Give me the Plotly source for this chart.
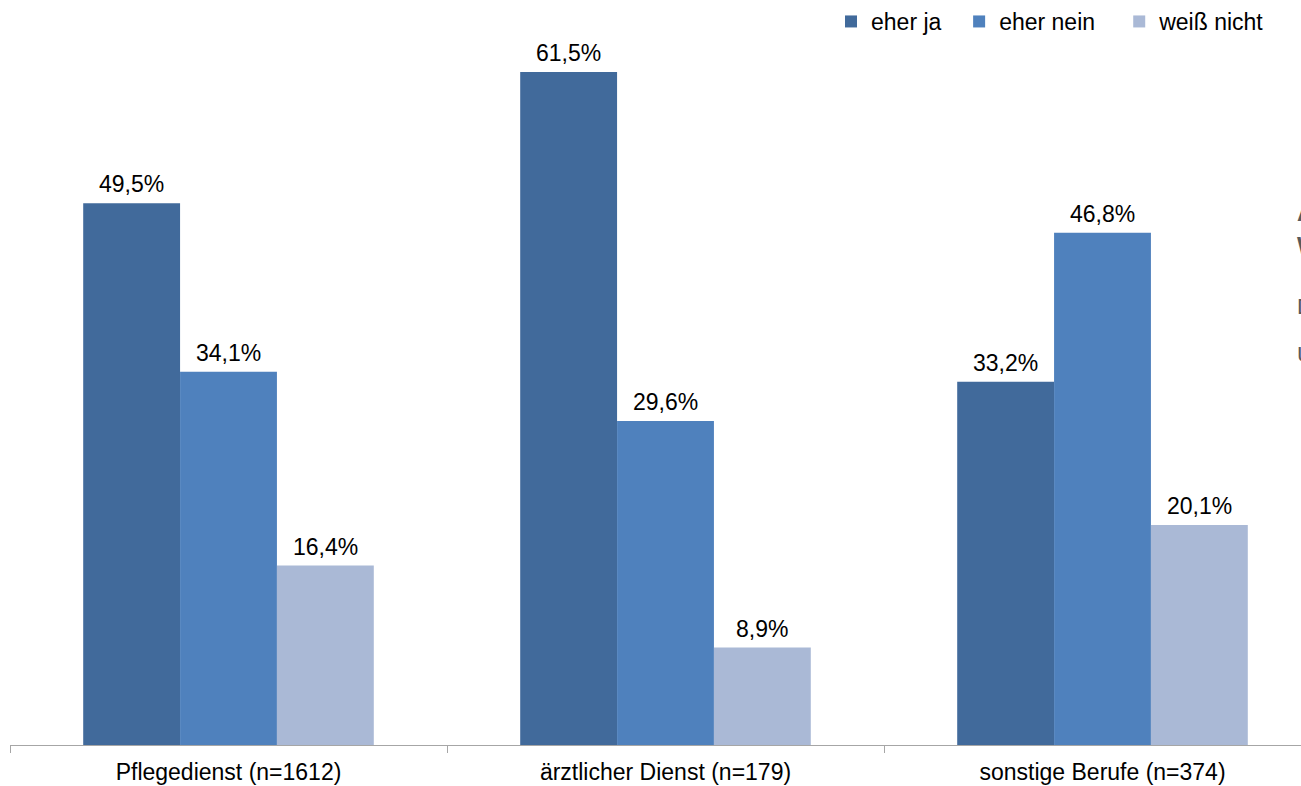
import plotly.graph_objects as go

categories = ["Pflegedienst (n=1612)", "ärztlicher Dienst (n=179)", "sonstige Berufe (n=374)"]
series_names = ["eher ja", "eher nein", "weiß nicht"]
eher_ja = [49.5, 61.5, 33.2]
eher_nein = [34.1, 29.6, 46.8]
weiss_nicht = [16.4, 8.9, 20.1]
series_values = [eher_ja, eher_nein, weiss_nicht]
colors = ["#416A9B", "#4F81BD", "#AAB9D6"]

FONT = "Liberation Sans, Arial"
FS = 23
bargap = 0.335
n_series = len(series_values)
bar_w = (1 - bargap) / n_series
legend_pads = ["\u00a0\u00a0", "\u00a0\u00a0\u00a0", ""]

fig = go.Figure()
for name, vals, col, pad in zip(series_names, series_values, colors, legend_pads):
    fig.add_trace(go.Bar(x=categories, y=vals, name=name + pad, marker=dict(color=col, line=dict(width=0))))

annotations = []
for j, vals in enumerate(series_values):
    for i, v in enumerate(vals):
        annotations.append(dict(
            x=i + (j - (n_series - 1) / 2) * bar_w, y=v, xref="x", yref="y",
            text=f"{v:.1f}%".replace(".", ","), showarrow=False,
            yanchor="bottom", yshift=4,
            font=dict(family=FONT, size=FS, color="#000000"),
        ))

L, R, T, B = 10, 0, 0, 41
W, H = 1301, 786

# cut-off text at the right edge of the reference image
for txt, ypx, sz, bold in [("A", 213, 24, True), ("W", 246, 24, True), ("D", 306, 22, False), ("Ü", 354, 22, False)]:
    annotations.append(dict(
        x=(1295 - L) / (W - L - R), y=((H - ypx) - B) / (H - T - B), xref="paper", yref="paper",
        text=f"<b>{txt}</b>" if bold else txt,
        showarrow=False, xanchor="left", yanchor="middle",
        font=dict(family=FONT, size=sz, color="#595959"),
    ))

fig.update_layout(
    width=W, height=H,
    margin=dict(l=L, r=R, t=T, b=B, pad=0),
    paper_bgcolor="white", plot_bgcolor="white",
    barmode="group", bargap=bargap, bargroupgap=0,
    font=dict(family=FONT, size=FS, color="#000000"),
    showlegend=True,
    legend=dict(orientation="h", x=0.976, xanchor="right", y=1.0, yanchor="top",
                font=dict(family=FONT, size=FS), traceorder="normal", itemwidth=30,
                bgcolor="rgba(0,0,0,0)"),
    annotations=annotations,
)
fig.update_xaxes(
    type="category", range=[-0.5, -0.5 + (W - L - R) / 437.0],
    showline=True, linecolor="#A6A6A6", linewidth=1,
    ticks="outside", tickson="boundaries", ticklen=7, tickcolor="#A6A6A6",
    ticklabelstandoff=6,
    showgrid=False, tickfont=dict(family=FONT, size=FS, color="#000000"),
)
fig.update_yaxes(range=[0, 745 / (673 / 61.5)], visible=False, showgrid=False, zeroline=False)

fig.write_html("out.html")
